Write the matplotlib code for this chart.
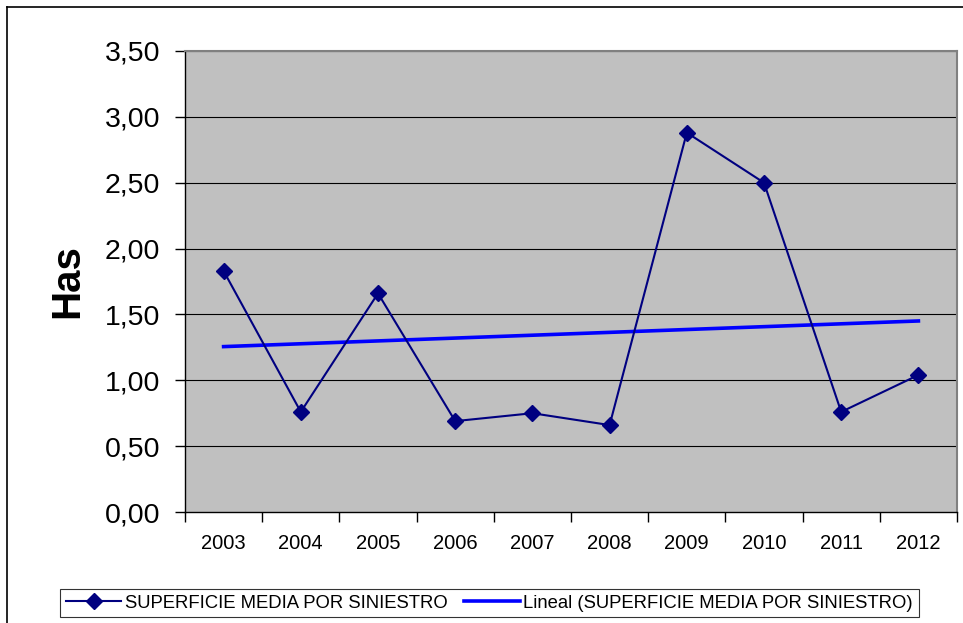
import numpy as np
import matplotlib
matplotlib.use("Agg")
import matplotlib.pyplot as plt
from matplotlib.lines import Line2D

# datos
anios = ["2003", "2004", "2005", "2006", "2007", "2008", "2009", "2010", "2011", "2012"]
superficie = [1.83, 0.76, 1.66, 0.69, 0.75, 0.66, 2.88, 2.50, 0.76, 1.04]
y_ticks = [0.0, 0.5, 1.0, 1.5, 2.0, 2.5, 3.0, 3.5]

plt.rcParams["font.family"] = ["Liberation Sans", "DejaVu Sans"]

fig = plt.figure(figsize=(9.63, 6.23), dpi=100)
ax = fig.add_axes([185 / 963, 111 / 623, 772 / 963, 461 / 623])
ax.set_facecolor("#c0c0c0")

x = np.arange(len(anios))

# lineas de la grilla
for v in y_ticks[1:]:
    ax.axhline(v, color="black", lw=0.8, zorder=1)

ax.plot(x, superficie, color="#000080", lw=1.5, marker="D", markersize=8,
        label="SUPERFICIE MEDIA POR SINIESTRO", zorder=3)

# tendencia lineal
coef = np.polyfit(x, superficie, 1)
ax.plot(x, np.polyval(coef, x), color="#0000ff", lw=2.6,
        label="Lineal (SUPERFICIE MEDIA POR SINIESTRO)", zorder=2)

ax.set_xlim(-0.5, len(anios) - 0.5)
ax.set_ylim(0, 3.5)
ax.set_yticks(y_ticks)
ax.set_yticklabels([f"{v:.2f}".replace(".", ",") for v in y_ticks], fontsize=20.5)
ax.set_xticks(x)
ax.set_xticklabels(anios, fontsize=14.5)
ax.set_xticks(np.arange(-0.5, len(anios)), minor=True)
ax.tick_params(axis="x", which="major", length=0, pad=16)
ax.tick_params(axis="x", which="minor", length=7, width=1, color="black")
ax.tick_params(axis="y", length=7, width=1, pad=11)

ax.set_ylabel("Has", fontsize=29, fontweight="bold", labelpad=13)

for s in ["top", "right"]:
    ax.spines[s].set_color("#808080")
    ax.spines[s].set_linewidth(1.5)
for s in ["left", "bottom"]:
    ax.spines[s].set_color("black")
    ax.spines[s].set_linewidth(1)

leg = fig.legend(loc="center", bbox_to_anchor=(489.5 / 963, 1 - 603 / 623), ncol=2,
                 fontsize=13.3, frameon=True, fancybox=False, edgecolor="black",
                 handlelength=3, columnspacing=0.9, handletextpad=0.2,
                 borderpad=0.3, borderaxespad=0)
leg.get_frame().set_linewidth(0.8)

# borde exterior
fig.add_artist(Line2D([7 / 963, 7 / 963], [0, 1 - 7 / 623], transform=fig.transFigure, color="black", lw=1.2))
fig.add_artist(Line2D([7 / 963, 1], [1 - 7 / 623, 1 - 7 / 623], transform=fig.transFigure, color="black", lw=1.2))

fig.savefig("out.png", dpi=100)
